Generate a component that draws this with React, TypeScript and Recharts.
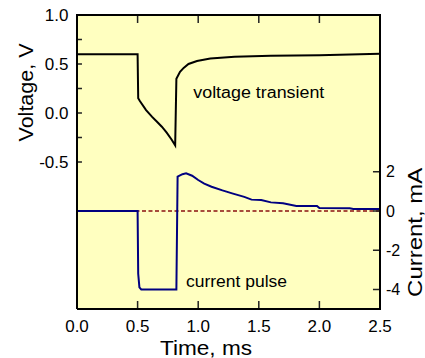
import React from "react";
import {
  LineChart,
  Line,
  XAxis,
  YAxis,
  CartesianGrid,
  ReferenceLine,
  ReferenceDot,
} from "recharts";

const timeTicks = [0, 0.5, 1.0, 1.5, 2.0, 2.5];
const voltTicks = [-0.5, -0.25, 0, 0.25, 0.5, 0.75, 1.0];
const voltLabels = [-0.5, 0, 0.5, 1.0];
const currentTicks = [-4, -2, 0, 2];

// voltage transient (V) vs time (ms)
const voltTime = [0, 0.5, 0.505, 0.52, 0.57, 0.62, 0.66, 0.7, 0.74, 0.78, 0.81, 0.82, 0.85, 0.88, 0.92, 0.99, 1.1, 1.3, 1.6, 2.0, 2.5];
const voltValues = [0.6, 0.6, 0.15, 0.12, 0.03, -0.04, -0.09, -0.14, -0.2, -0.27, -0.33, 0.35, 0.42, 0.46, 0.5, 0.53, 0.555, 0.575, 0.583, 0.59, 0.605];

// current pulse (mA) vs time (ms)
const currTime = [0, 0.5, 0.505, 0.515, 0.53, 0.82, 0.83, 0.87, 0.9, 0.95, 1.0, 1.05, 1.11, 1.2, 1.28, 1.38, 1.44, 1.52, 1.6, 1.7, 1.81, 1.98, 2.0, 2.25, 2.28, 2.5];
const currValues = [0, 0, -3.2, -3.9, -4.0, -4.0, 1.75, 1.88, 1.92, 1.8, 1.58, 1.4, 1.24, 1.05, 0.9, 0.72, 0.58, 0.56, 0.44, 0.39, 0.26, 0.26, 0.15, 0.14, 0.1, 0.1];

const voltageData = voltTime.map((t, k) => ({ t, v: voltValues[k] }));
const currentData = currTime.map((t, k) => ({ t, i: currValues[k] }));

const font = "'Liberation Sans', Arial, sans-serif";
const X_MIN = 0;
const X_MAX = 2.5;
const V_MIN = -2;
const V_MAX = 1;
// inward tick lengths in data units (about 8px, 5px, 7px)
const X_TICK = 0.082;
const V_TICK = 0.041;
const I_TICK = 0.058;

// frame and inward tick marks as paths through the chart scales (null breaks the path)
const frameData = [
  { t: X_MIN, y: V_MIN },
  { t: X_MIN, y: V_MAX },
  { t: X_MAX, y: V_MAX },
  { t: X_MAX, y: V_MIN },
  { t: X_MIN, y: V_MIN },
];
const voltTickData = [
  ...timeTicks.flatMap((t) => [{ t, y: V_MIN }, { t, y: V_MIN + X_TICK }, { t, y: null }]),
  ...timeTicks.flatMap((t) => [{ t, y: V_MAX }, { t, y: V_MAX - X_TICK }, { t, y: null }]),
  ...voltTicks.flatMap((v) => [{ t: X_MIN, y: v }, { t: X_MIN + V_TICK, y: v }, { t: X_MIN, y: null }]),
];
const currTickData = currentTicks.flatMap((c) => [
  { t: X_MAX, y: c },
  { t: X_MAX - I_TICK, y: c },
  { t: X_MAX, y: null },
]);

const noDot = { r: 0, fill: "none", stroke: "none" };

export default function App() {
  return (
    <div style={{ position: "absolute", left: 0, top: 0, width: 425, height: 358, background: "#fff", fontFamily: font }}>
      <LineChart width={425} height={358} margin={{ top: 15, right: 45, bottom: 49, left: 77 }}>
        <XAxis xAxisId="x" type="number" dataKey="t" domain={[X_MIN, X_MAX]} ticks={timeTicks} hide />
        <YAxis yAxisId="v" type="number" domain={[V_MIN, V_MAX]} ticks={voltTicks} hide />
        <YAxis yAxisId="i" orientation="right" type="number" domain={[-5, 10]} ticks={currentTicks} hide />

        {/* plot background */}
        <CartesianGrid xAxisId="x" yAxisId="v" fill="#FFFFC0" fillOpacity={1} stroke="none" horizontal={false} vertical={false} />

        <ReferenceLine xAxisId="x" yAxisId="i" y={0} stroke="#8B1010" strokeWidth={1.5} strokeDasharray="4 2.5" />
        <Line
          data={voltageData}
          xAxisId="x"
          yAxisId="v"
          dataKey="v"
          type="linear"
          stroke="#000"
          strokeWidth={2}
          dot={false}
          isAnimationActive={false}
        />
        <Line
          data={currentData}
          xAxisId="x"
          yAxisId="i"
          dataKey="i"
          type="linear"
          stroke="#000080"
          strokeWidth={2}
          dot={false}
          isAnimationActive={false}
        />

        {/* tick marks */}
        <Line
          data={voltTickData}
          xAxisId="x"
          yAxisId="v"
          dataKey="y"
          type="linear"
          stroke="#222"
          strokeWidth={1.5}
          dot={false}
          activeDot={false}
          connectNulls={false}
          isAnimationActive={false}
        />
        <Line
          data={currTickData}
          xAxisId="x"
          yAxisId="i"
          dataKey="y"
          type="linear"
          stroke="#222"
          strokeWidth={1.5}
          dot={false}
          activeDot={false}
          connectNulls={false}
          isAnimationActive={false}
        />
        {/* frame */}
        <Line
          data={frameData}
          xAxisId="x"
          yAxisId="v"
          dataKey="y"
          type="linear"
          stroke="#000"
          strokeWidth={2}
          dot={false}
          activeDot={false}
          isAnimationActive={false}
        />

        {/* tick labels */}
        {timeTicks.map((t) => (
          <ReferenceDot
            key={`lx${t}`}
            xAxisId="x"
            yAxisId="v"
            x={t}
            y={V_MIN}
            {...noDot}
            label={{ value: t.toFixed(1), position: "bottom", offset: 11, fontSize: 17, fontFamily: font, fill: "#000" }}
          />
        ))}
        {voltLabels.map((v) => (
          <ReferenceDot
            key={`lv${v}`}
            xAxisId="x"
            yAxisId="v"
            x={X_MIN}
            y={v}
            {...noDot}
            label={{ value: v.toFixed(1), position: "left", offset: 8.5, fontSize: 17, fontFamily: font, fill: "#000" }}
          />
        ))}
        {currentTicks.map((c) => (
          <ReferenceDot
            key={`li${c}`}
            xAxisId="x"
            yAxisId="i"
            x={X_MAX}
            y={c}
            {...noDot}
            label={{ value: String(c), position: "right", offset: 6, fontSize: 16, fontFamily: font, fill: "#000" }}
          />
        ))}
      </LineChart>
      <svg
        width={425}
        height={358}
        style={{ position: "absolute", left: 0, top: 0, pointerEvents: "none" }}
        fontFamily={font}
      >
        <text transform="translate(33,92.5) rotate(-90)" textAnchor="middle" fontSize={20} textLength={98} lengthAdjust="spacingAndGlyphs">
          Voltage, V
        </text>
        <text transform="translate(422,232.4) rotate(-90)" textAnchor="middle" fontSize={20} textLength={129} lengthAdjust="spacingAndGlyphs">
          Current, mA
        </text>
        <text x={206} y={355} textAnchor="middle" fontSize={21} textLength={92} lengthAdjust="spacingAndGlyphs">
          Time, ms
        </text>
        <text x={193.3} y={98} fontSize={16} textLength={131} lengthAdjust="spacingAndGlyphs">
          voltage transient
        </text>
        <text x={186} y={286.7} fontSize={16} textLength={101} lengthAdjust="spacingAndGlyphs">
          current pulse
        </text>
      </svg>
    </div>
  );
}
